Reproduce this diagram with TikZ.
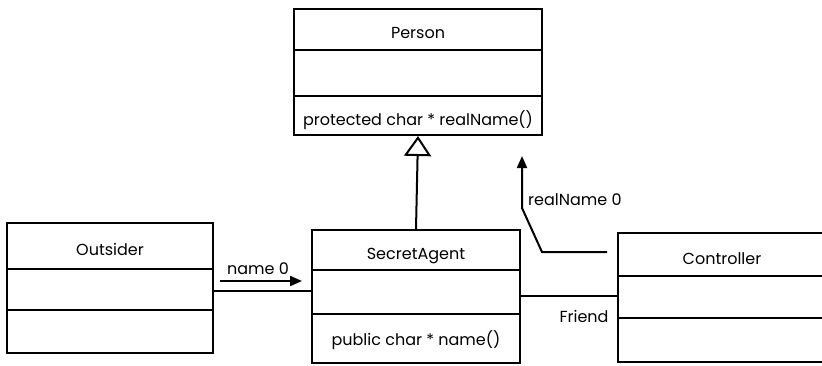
\documentclass[tikz,border=0pt]{standalone}
\usepackage{fontspec}
\setmainfont{Poppins}
\usetikzlibrary{arrows.meta}
\begin{document}
\begin{tikzpicture}[x=1pt,y=-1pt,
  line/.style={line width=2pt, line cap=rect},
  classbox/.style={draw, line width=2pt, inner sep=0pt},
  lbl/.style={font=\fontsize{16}{18}\selectfont, inner sep=0pt, anchor=base},
  assoc/.style={line width=2pt},
  msg/.style={line width=2pt, -{Triangle[length=12pt,width=10pt]}}
]
\useasboundingbox (0,0) rectangle (822,365);
\clip (0,0) rectangle (822,365);

% Person
\node[classbox, minimum width=248pt, minimum height=126pt] (person) at (418,72) {};
\draw[line] (294,50) -- (542,50);
\draw[line] (294,96) -- (542,96);
\node[lbl] (personname) at (418,38) {Person};
\node[lbl] (personop) at (418,125) {protected char * realName()};

% SecretAgent
\node[classbox, minimum width=208pt, minimum height=133pt] (agent) at (416,296.5) {};
\draw[line] (312,270) -- (520,270);
\draw[line] (312,314) -- (520,314);
\node[lbl] (agentname) at (416,259) {SecretAgent};
\node[lbl] (agentop) at (416,345) {public char * name()};

% Outsider
\node[classbox, minimum width=206pt, minimum height=130pt] (outsider) at (110,288) {};
\draw[line] (7,269) -- (213,269);
\draw[line] (7,310) -- (213,310);
\node[lbl] (outsidername) at (110,255) {Outsider};

% Controller (runs past the right edge)
\node[classbox, minimum width=232pt, minimum height=129pt] (controller) at (734,297.5) {};
\draw[line] (618,276) -- (850,276);
\draw[line] (618,318) -- (850,318);
\node[lbl] (controllername) at (722,264) {Controller};

% generalisation
\draw[assoc, -{Triangle[open, length=20pt, width=27pt, line width=2pt]}]
  (agent.north) -- (person.south);

% associations
\draw[assoc] (outsider.east |- 0,291) -- (agent.west |- 0,291);
\draw[assoc] (agent.east |- 0,296) -- (controller.west |- 0,296);
\node[lbl] (friend) at (584,322) {Friend};

% messages
\coordinate (m1s) at (220,281);
\coordinate (m1e) at (302,281);
\draw[msg] (m1s) -- (m1e);
\node[lbl] (m1lbl) at (258,274) {name 0};

\coordinate (m2s) at (607,252);
\coordinate (m2a) at (542,252);
\coordinate (m2b) at (522,208);
\coordinate (m2e) at (522,156);
\draw[msg, line join=miter] (m2s) -- (m2a) -- (m2b) -- (m2e);
\node[lbl, anchor=base west] (m2lbl) at (528,205) {realName 0};
\end{tikzpicture}
\end{document}
